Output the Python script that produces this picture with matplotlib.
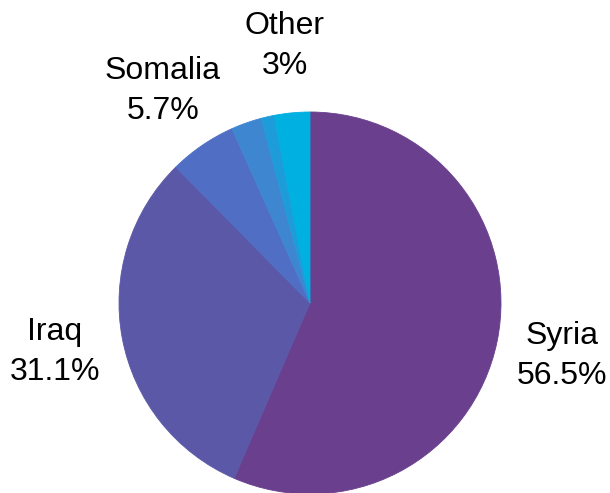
import matplotlib
matplotlib.use("Agg")
import matplotlib.pyplot as plt

labels = ["Syria", "Iraq", "Somalia", "", "", "Other"]
values = [56.5, 31.1, 5.7, 2.6, 1.1, 3.0]
pct_text = ["56.5%", "31.1%", "5.7%", "", "", "3%"]
colors = ["#693F8E", "#5B58A8", "#4F6EC4", "#3F86D1", "#1E9CD9", "#00B0E0"]

W, H = 610, 493
fig = plt.figure(figsize=(W / 100, H / 100), dpi=100)
cx, cy, r = 310, 303, 191
ax = fig.add_axes([(cx - r) / W, (H - cy - r) / H, 2 * r / W, 2 * r / H])
wedges, _ = ax.pie(values, colors=colors, startangle=90, counterclock=False,
                   wedgeprops=dict(linewidth=0.6))
for w in wedges:
    w.set_edgecolor(w.get_facecolor())
ax.set_xlim(-1, 1)
ax.set_ylim(-1, 1)
ax.set_aspect("equal")
ax.axis("off")

label_pos = {0: (562, 356), 1: (55, 352), 2: (163, 91), 5: (285, 46)}
for i, (x, y) in label_pos.items():
    fig.text(x / W, 1 - y / H, f"{labels[i]}\n{pct_text[i]}", ha="center", va="center",
             fontsize=23, family="Liberation Sans", linespacing=1.45, color="#000000")

fig.savefig("out.png", dpi=100)
